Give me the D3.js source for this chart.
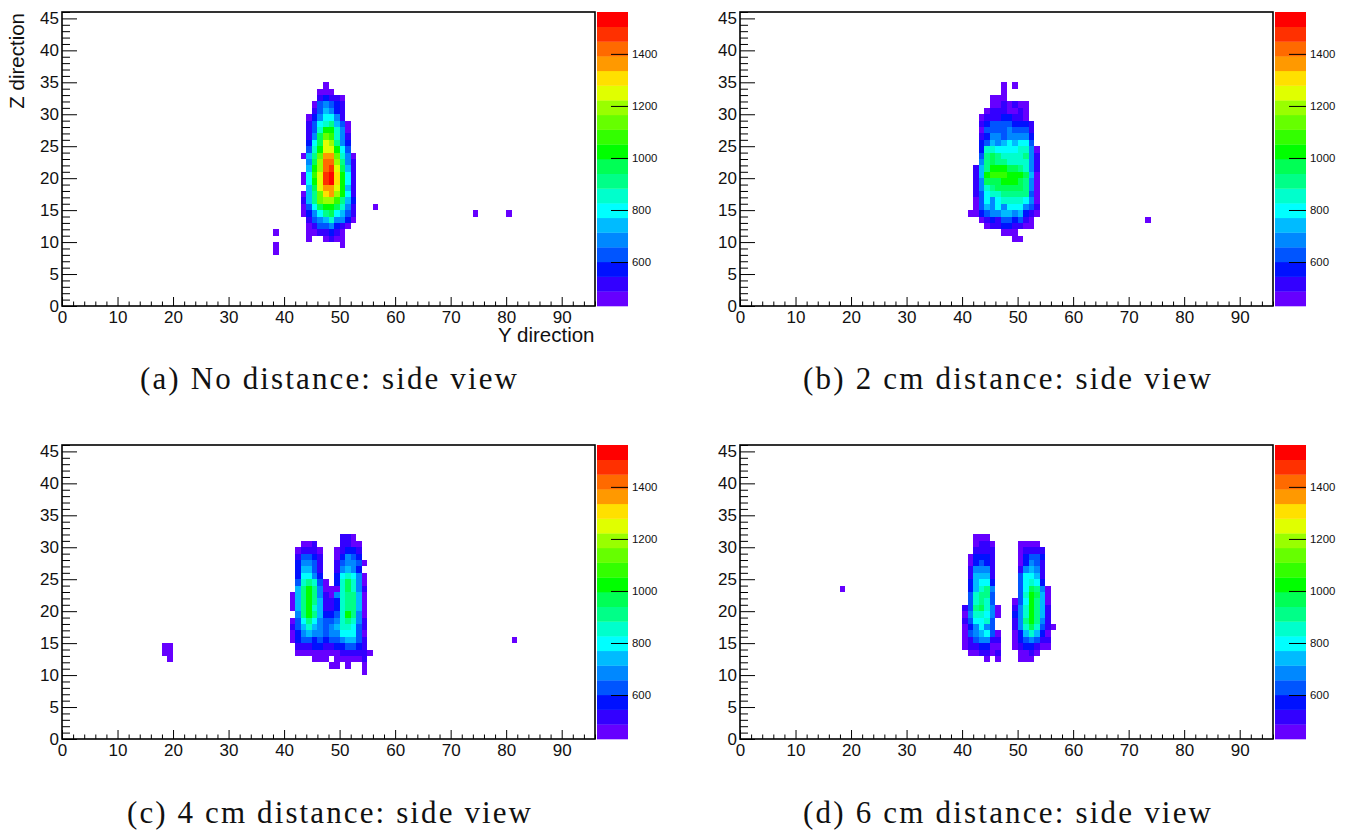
<!DOCTYPE html>
<html><head><meta charset="utf-8">
<script src="https://cdn.jsdelivr.net/npm/d3@7"></script>
<style>
html,body{margin:0;padding:0;background:#fff}
svg{display:block}
text{font-family:"Liberation Sans",Arial,sans-serif;fill:#111}
.cap{font-family:"Liberation Serif",serif;font-size:31px}
</style></head><body>
<div id="chart"></div>
<script>
// Colour levels, low to high (20 bins of the z scale)
const palette = ["#6600ff","#3300ff","#0011ff","#0055ff","#0088ff","#00bbff","#00ffff","#00ffcc","#00ff88","#00ff55","#00ff00","#33ff00","#66ff00","#99ff00","#e0ff00","#ffe000","#ff9900","#ff6a00","#ff3000","#ff0000"];
const zDomain = [431, 1561];
const zTicks = [600, 800, 1000, 1200, 1400];
const xMajor = [0,10,20,30,40,50,60,70,80,90];
const yMajor = [0,5,10,15,20,25,30,35,40,45];
const captions = ["(a) No distance: side view","(b) 2 cm distance: side view","(c) 4 cm distance: side view","(d) 6 cm distance: side view"];
const captionWidths = [377, 408, 404, 408];

// Each row: [z bin, first y bin, bin level per cell in base 20 (0-9,a-j)]
const rowsA = [
[34,47,"0"],[33,46,"000"],[32,46,"12110"],[31,45,"034321"],[30,45,"135421"],[29,44,"0246641"],
[28,44,"13678530"],[27,44,"137aa740"],[26,44,"149cb741"],[25,44,"269ed842"],[24,44,"37aeea63"],
[23,43,"058cggc740"],[22,44,"49dhhd841"],[21,44,"5adhie951"],[20,43,"06beijfa61"],[19,43,"06aeijfa61"],
[18,44,"59eggea51"],[17,43,"058cfgda61"],[16,43,"158cddb852"],[15,43,"0369aa9741"],[15,56,"0"],
[14,43,"0246896531"],[14,74,"0"],[14,80,"0"],[13,44,"134574420"],[12,44,"01334210"],[11,44,"0011210"],
[11,38,"0"],[10,44,"0"],[10,47,"0100"],[9,38,"0"],[9,50,"0"],[8,38,"0"]];
const rowsB = [
[34,47,"0"],[34,49,"0"],[33,47,"0"],[32,45,"000"],[31,45,"0010100"],[30,44,"01110010"],[29,43,"011122110"],
[28,43,"1233332221"],[27,43,"0333343331"],[26,43,"1244344442"],[25,43,"2354565663"],[24,43,"27766667740"],
[23,43,"38987777841"],[22,43,"48988777741"],[21,42,"158aaa998741"],[20,42,"15abbbaaa950"],[19,42,"14999aaa9840"],
[18,42,"147899999840"],[17,42,"136778888830"],[16,42,"036467777640"],[15,42,"035464666431"],[14,41,"0023445545210"],
[13,43,"0121332310"],[13,73,"0"],[12,44,"011221100"],[11,47,"000"],[10,49,"00"]];
const rowsC = [
[31,50,"110"],[30,43,"001"],[30,50,"1100"],[29,42,"01110"],[29,49,"01221"],[28,42,"13321"],[28,49,"02432"],
[27,42,"24431"],[27,49,"134430"],[26,42,"25531"],[26,49,"14542"],[25,42,"26642"],[25,49,"267640"],
[24,42,"378730"],[24,49,"279740"],[23,42,"58a84000"],[23,50,"7974"],[23,54,"1"],
[22,41,"058a8410"],[22,49,"478850"],[21,41,"058a8511"],[21,49,"278850"],[20,41,"058a7511"],[20,49,"278850"],
[19,42,"48a85223"],[19,50,"7a840"],[18,41,"0368643347"],[18,51,"8741"],[17,41,"1357543457"],[17,51,"7631"],
[16,41,"0245443446"],[16,51,"6630"],[15,41,"0233232334"],[15,51,"5531"],[15,81,"0"],[14,42,"1112211223"],[14,52,"321"],[14,18,"00"],
[13,42,"00000000"],[13,50,"111110"],[13,18,"00"],[12,45,"000"],[12,49,"000001"],[12,19,"0"],[11,48,"00"],[11,51,"0"],[11,54,"0"],[10,54,"0"]];
const rowsD = [
[31,42,"000"],[30,42,"0110"],[30,50,"0000"],[29,42,"1111"],[29,50,"01111"],[28,41,"02221"],[28,50,"02332"],
[27,41,"02321"],[27,50,"02431"],[26,41,"14441"],[26,50,"14541"],[25,41,"15551"],[25,50,"36651"],
[24,41,"25662"],[24,50,"36762"],[23,41,"25784"],[23,50,"369840"],[23,18,"0"],[22,41,"37883"],[22,50,"37a950"],
[21,41,"37873"],[21,49,"036a850"],[20,40,"1389740"],[20,49,"147a851"],[19,40,"0477640"],[19,49,"247a851"],
[18,40,"136673"],[18,49,"148a841"],[17,40,"024643"],[17,49,"14797310"],[16,40,"0345630"],[16,49,"0257520"],
[15,40,"0134411"],[15,49,"0234311"],[14,40,"0112200"],[14,49,"0122100"],
[13,41,"001101"],[13,50,"0010"],[12,44,"0"],[12,46,"0"],[12,50,"000"]];
const panelRows = [rowsA, rowsB, rowsC, rowsD];

const W = 1352, H = 833;
const panelLeft = [62, 740, 62, 740];
const panelTop = [12, 12, 445, 445];
const captionY = [389, 389, 823, 823];
const captionCx = [328.5, 1007, 329, 1007];
const plotW = 533, plotH = 294;

const svg = d3.select("#chart").append("svg").attr("width", W).attr("height", H);
const binSize = (zDomain[1]-zDomain[0])/palette.length;
const color = d3.scaleQuantize().domain(zDomain).range(palette);
const minors = (n, step, major) => d3.range(0, n+0.001, step).filter(v => !major.includes(v));

panelRows.forEach((rows, p) => {
  const g = svg.append("g").attr("transform", `translate(${panelLeft[p]},${panelTop[p]})`);
  const x = d3.scaleLinear().domain([0,96]).range([0,plotW]);
  const y = d3.scaleLinear().domain([0,46]).range([plotH,0]);
  const cells = [];
  rows.forEach(([z, i0, s]) => [...s].forEach((c, k) => cells.push({
    i: i0+k, j: z, v: zDomain[0] + binSize*(parseInt(c,20)+0.5)
  })));
  g.append("g").selectAll("rect").data(cells).join("rect")
    .attr("x", d => Math.round(x(d.i))).attr("y", d => Math.round(y(d.j+1)))
    .attr("width", d => Math.round(x(d.i+1))-Math.round(x(d.i)))
    .attr("height", d => Math.round(y(d.j))-Math.round(y(d.j+1)))
    .attr("fill", d => color(d.v)).attr("shape-rendering","crispEdges");

  // minor ticks
  g.append("g").attr("transform",`translate(0,${plotH})`)
    .call(d3.axisBottom(x).tickValues(minors(96,2,xMajor)).tickSize(-4.5).tickFormat(""))
    .call(a => a.select(".domain").remove());
  g.append("g")
    .call(d3.axisLeft(y).tickValues(minors(46,1,yMajor)).tickSize(-8).tickFormat(""))
    .call(a => a.select(".domain").remove());
  // major ticks
  g.append("g").attr("transform",`translate(0,${plotH})`)
    .call(d3.axisBottom(x).tickValues(xMajor).tickSize(-9).tickPadding(4.5).tickFormat(d3.format("d")))
    .call(a => a.select(".domain").remove())
    .call(a => a.selectAll("text").attr("font-size",17).attr("font-family","Liberation Sans").attr("fill","#111"));
  g.append("g")
    .call(d3.axisLeft(y).tickValues(yMajor).tickSize(-15).tickPadding(3).tickFormat(d3.format("d")))
    .call(a => a.select(".domain").remove())
    .call(a => a.selectAll("text").attr("font-size",17).attr("font-family","Liberation Sans").attr("fill","#111"));
  // frame
  g.append("rect").attr("width",plotW).attr("height",plotH)
    .attr("fill","none").attr("stroke","#000").attr("stroke-width",1.6);

  // colour bar
  const zs = d3.scaleLinear().domain(zDomain).range([plotH,0]);
  const cb = g.append("g").attr("transform",`translate(${plotW+2},0)`);
  cb.selectAll("rect").data(palette).join("rect")
    .attr("x",0).attr("width",31)
    .attr("y",(d,k)=>zs(zDomain[0]+binSize*(k+1)))
    .attr("height",(d,k)=>zs(zDomain[0]+binSize*k)-zs(zDomain[0]+binSize*(k+1))+0.3)
    .attr("fill",d=>d);
  g.append("g").attr("transform",`translate(${plotW+33},0)`)
    .call(d3.axisRight(zs).tickValues(zTicks).tickSize(-17).tickPadding(4).tickFormat(d3.format("d")))
    .call(a => a.select(".domain").remove())
    .call(a => a.selectAll("text").attr("font-size",11.4).attr("font-family","Liberation Sans").attr("fill","#111"));

  if (p===0) {
    g.append("text").attr("x",plotW-0.5).attr("y",330).attr("text-anchor","end")
      .attr("font-size",20.5).text("Y direction");
    g.append("text").attr("transform","translate(-38.5,0) rotate(-90)").attr("x",-1).attr("y",0)
      .attr("text-anchor","end").attr("font-size",20.5).text("Z direction");
  }
  svg.append("text").attr("class","cap").attr("x",captionCx[p]).attr("y",captionY[p])
    .attr("text-anchor","middle").attr("textLength",captionWidths[p]).attr("lengthAdjust","spacing")
    .text(captions[p]);
});
</script>
</body></html>
